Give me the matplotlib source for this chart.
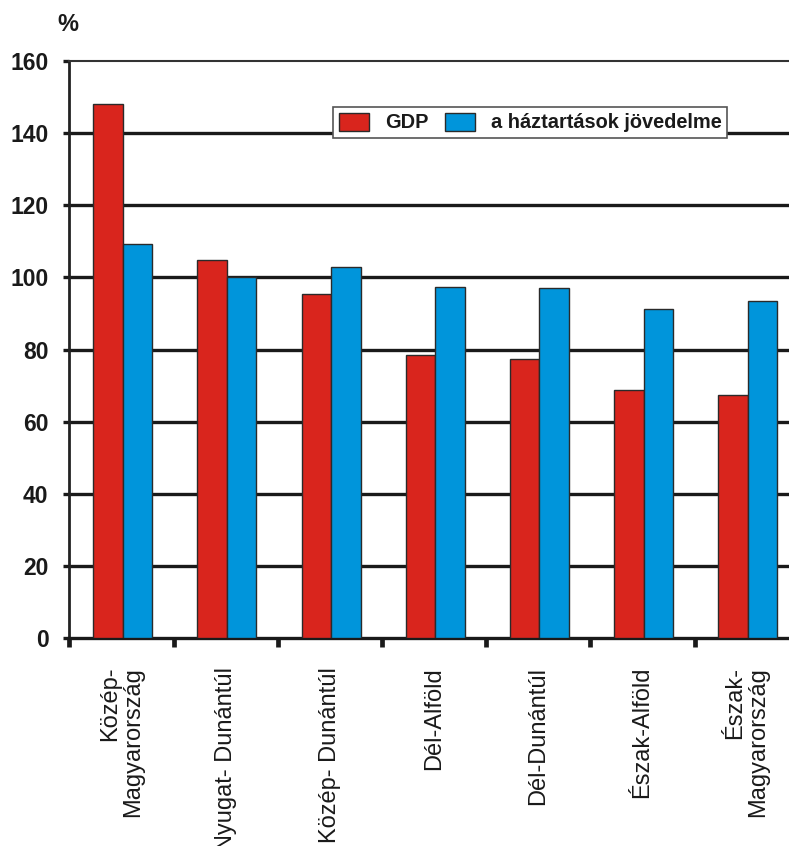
import matplotlib
matplotlib.use("Agg")
import matplotlib.pyplot as plt
import numpy as np

categories = ["Közép-\nMagyarország", "Nyugat- Dunántúl", "Közép- Dunántúl",
              "Dél-Alföld", "Dél-Dunántúl", "Észak-Alföld", "Észak-\nMagyarország"]
gdp = [148.1, 104.8, 95.3, 78.5, 77.5, 68.8, 67.5]
income = [109.4, 100.2, 103.0, 97.5, 97.0, 91.2, 93.5]
series_names = ["GDP", "a háztartások jövedelme"]
yticks = [0, 20, 40, 60, 80, 100, 120, 140, 160]

plt.rcParams['font.family'] = ['Liberation Sans', 'DejaVu Sans']

W, H = 789, 846
fig = plt.figure(figsize=(W / 100, H / 100), dpi=100)
ax_left, ax_right, ax_bottom, ax_top = 69.3, 798.7, 638.3, 61.0
ax = fig.add_axes([ax_left / W, 1 - ax_bottom / H,
                   (ax_right - ax_left) / W, (ax_bottom - ax_top) / H])

red = "#D9251D"
blue = "#0095DB"
edge = "#2a2a2a"
x = np.arange(len(categories))
w = 0.283
ax.bar(x - w / 2 + 0.012, gdp, w, color=red, edgecolor=edge, linewidth=1.0,
       label=series_names[0], zorder=3)
ax.bar(x + w / 2 + 0.012, income, w, color=blue, edgecolor=edge, linewidth=1.0,
       label=series_names[1], zorder=3)

ax.set_xlim(-0.5, len(categories) - 0.5)
ax.set_ylim(0, 160)

# gridlines
for v in yticks[1:-1]:
    ax.axhline(v, color="#1a1a1a", linewidth=2.4, zorder=1)

ax.spines["right"].set_visible(False)
ax.spines["top"].set_color("#333333")
ax.spines["top"].set_linewidth(1.5)
ax.spines["left"].set_color("#222222")
ax.spines["left"].set_linewidth(2.0)
ax.spines["bottom"].set_color("#1a1a1a")
ax.spines["bottom"].set_linewidth(2.4)

ax.set_yticks(yticks)
ax.set_yticklabels([str(v) for v in yticks], fontsize=16.5, fontweight="bold",
                   color="#1a1a1a")
ax.tick_params(axis="y", direction="out", length=4, width=2.4, pad=11,
               color="#1a1a1a")

ax.set_xticks(np.arange(-0.5, len(categories)), [""] * (len(categories) + 1))
ax.tick_params(axis="x", which="major", direction="out", length=6.5, width=3.4,
               color="#1a1a1a")
ax.set_xticks(x, categories, minor=True)
ax.tick_params(axis="x", which="minor", length=0, pad=20.5)
for lab in ax.get_xticklabels(minor=True):
    lab.set_rotation(90)
    lab.set_fontsize(17)
    lab.set_color("#1a1a1a")
    lab.set_multialignment("right")
    lab.set_linespacing(1.05)

leg = ax.legend(loc="upper left", bbox_to_anchor=(333.3 / W, 1 - 106.7 / H),
                bbox_transform=fig.transFigure, ncol=2, frameon=True,
                fancybox=False, framealpha=1, edgecolor="#555555",
                borderpad=0.3, borderaxespad=0, handlelength=1.5,
                handleheight=1.0, handletextpad=0.8, columnspacing=0.8,
                prop={"weight": "bold", "size": 14.4})
leg.get_frame().set_linewidth(1.2)
leg.set_zorder(5)
for t in leg.get_texts():
    t.set_color("#1a1a1a")

fig.text(67.5 / W, 1 - 24.5 / H, "%", fontsize=17, fontweight="bold",
         ha="center", va="center", color="#1a1a1a")

fig.savefig("out.png", dpi=100)
